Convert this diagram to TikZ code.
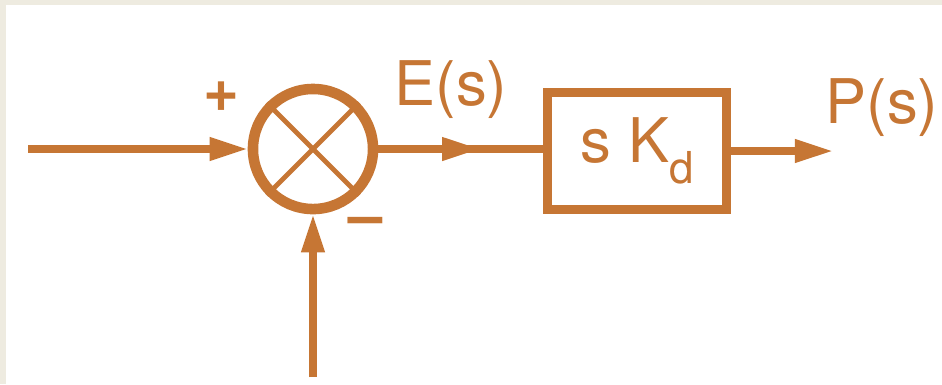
\documentclass[tikz,border=0pt]{standalone}
\usepackage{fontspec}
\setmainfont{TeX Gyre Heros}
\usetikzlibrary{arrows.meta,decorations.markings}
\definecolor{rust}{RGB}{198,118,52}
\definecolor{paper}{RGB}{238,235,224}
\tikzset{
  sumnode/.style={circle,draw=rust,line width=3pt,minimum size=1.2cm,inner sep=0pt},
  block/.style={draw=rust,line width=2.8pt,minimum width=1.79cm,minimum height=1.17cm,inner sep=0pt},
  conn/.style={draw=rust,line width=2pt},
  sig/.style={text=rust,font=\fontsize{17.5}{20}\selectfont,inner sep=0pt},
  midarrow/.style={postaction={decorate},decoration={markings,
    mark=at position 0.62 with {\arrow{Triangle[length=0.38cm,width=0.22cm]}}}}
}

\begin{document}
\begin{tikzpicture}[x=0.01cm,y=-0.01cm,>={Triangle[length=0.38cm,width=0.22cm]}]
  \fill[paper] (0,0) rectangle (942,384);
  \fill[white] (6,5) rectangle (942,384);
  \useasboundingbox (0,0) rectangle (942,384);
  % summing junction and gain block
  \node[sumnode] (sum) at (313,149) {};
  \node[block,sig] (gain) at (637,151) {s K\raisebox{-0.33em}{\fontsize{12.5}{14}\selectfont d}};
  \coordinate (in) at (28,149);
  \coordinate (fb) at (313,377);
  \coordinate (out) at (833,151);
  % labels
  \node[sig] (plus) at (221,97) {\textbf{+}};
  \node[sig] (minus) at (366,227) {\textbf{–}};
  \node[sig] (err) at (451,90) {E(s)};
  \node[sig] (pout) at (882,108) {P(s)};
  % connectors
  \draw[conn,->] (in) -- (sum);
  \draw[conn,->] (fb) -- (sum);
  \draw[conn,midarrow] (sum.east) -- (gain.west |- sum.east);
  \draw[conn,->] (gain) -- (out);
  \draw[conn,line width=1.4pt] (sum.45) -- (sum.225) (sum.135) -- (sum.315);
\end{tikzpicture}
\end{document}
